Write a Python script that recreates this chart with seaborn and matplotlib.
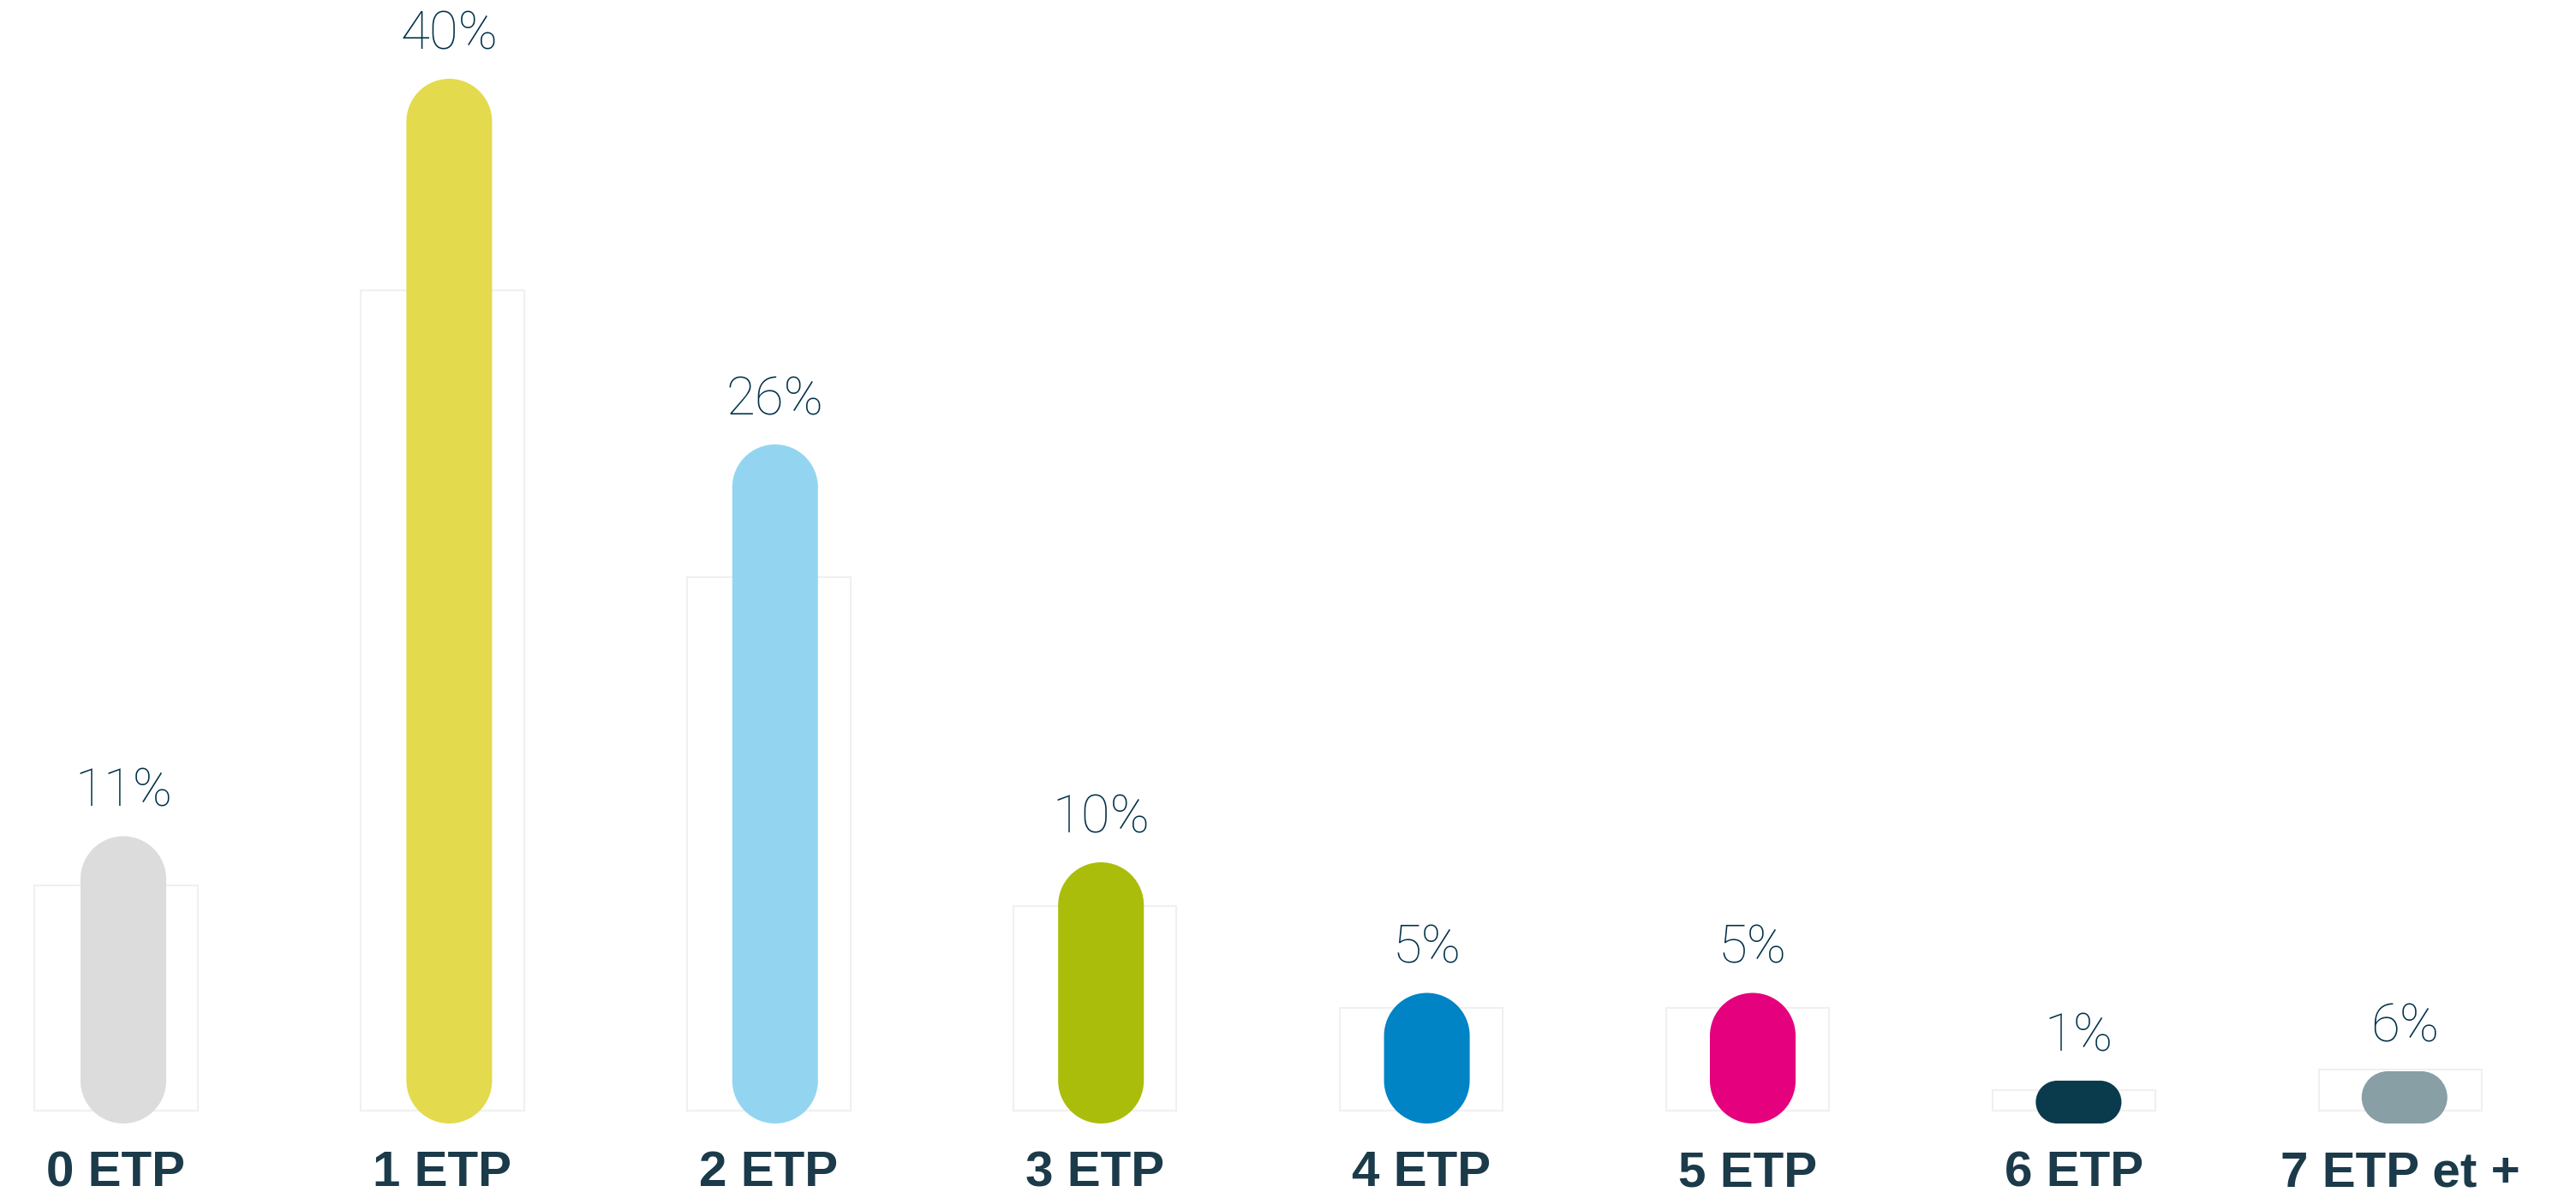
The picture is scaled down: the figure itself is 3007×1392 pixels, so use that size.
import matplotlib.pyplot as plt
import numpy as np
import seaborn as sns
from matplotlib.patches import PathPatch
from matplotlib.path import Path
from matplotlib.transforms import IdentityTransform

categories = ["0 ETP", "1 ETP", "2 ETP", "3 ETP", "4 ETP", "5 ETP", "6 ETP", "7 ETP et +"]
shares = [11, 40, 26, 10, 5, 5, 1, 2]
share_labels = ["11%", "40%", "26%", "10%", "5%", "5%", "1%", "6%"]
colors = ["#dcdcdc", "#e3da4e", "#93d5f1", "#abbd0b", "#0084c6", "#e5007d", "#0a3b4c", "#879fa5"]

W, H, DPI = 3007, 1392, 100


def capsule(x0, y0, w, h):
    """rounded box in pixel space, corner radius = half the short side"""
    r = min(w, h) / 2
    corners = [
        (x0 + w - r, y0 + h - r, 0, 90),
        (x0 + r, y0 + h - r, 90, 180),
        (x0 + r, y0 + r, 180, 270),
        (x0 + w - r, y0 + r, 270, 360),
    ]
    verts, codes = [], []
    for cx, cy, t1, t2 in corners:
        arc = Path.arc(t1, t2)
        v = arc.vertices * r + [cx, cy]
        c = list(arc.codes)
        c[0] = Path.MOVETO if not codes else Path.LINETO
        verts.extend(v)
        codes.extend(c)
    verts.append(verts[0])
    codes.append(Path.CLOSEPOLY)
    return Path(np.array(verts), codes)


sns.set_style("white")
fig = plt.figure(figsize=(W / DPI, H / DPI), dpi=DPI)

# faint outlined bars behind the capsules
ax_bg = fig.add_axes([0, 0, 1, 1])
sns.barplot(x=categories, y=shares, color="white", edgecolor="#f0f0f0",
            linewidth=1.5, width=0.5, saturation=1, ax=ax_bg)
ax_bg.set_xlim(-135.5 / 380.9, (W - 135.5) / 380.9)
ax_bg.set_ylim(-95 / 23.95, (H - 95) / 23.95)
ax_bg.axis("off")

# coloured capsules, on their own scale
ax = fig.add_axes([0, 0, 1, 1])
ax.patch.set_alpha(0)
sns.barplot(x=categories, y=shares, hue=categories, palette=colors,
            width=0.263, saturation=1, legend=False, ax=ax)
ax.set_xlim(-144 / 380.4, (W - 144) / 380.4)
ax.set_ylim(-80 / 30.5, (H - 80) / 30.5)
ax.axis("off")

for bar, label in zip(list(ax.patches), share_labels):
    x, w, h = bar.get_x(), bar.get_width(), bar.get_height()
    color = bar.get_facecolor()
    (px0, py0), (px1, py1) = ax.transData.transform([(x, 0), (x + w, h)])
    wpx = px1 - px0
    hpx = max(py1 - py0, 0.5 * wpx)
    bar.remove()
    ax.add_artist(PathPatch(capsule(px0, py0, wpx, hpx), facecolor=color,
                            edgecolor="none", transform=IdentityTransform()))
    top = ax.transData.inverted().transform((px0, py0 + hpx))[1]
    ax.annotate(label, xy=(x + w / 2, top), xytext=(0, 25), textcoords="offset points",
                ha="center", va="baseline", fontsize=44.6, family="Roboto",
                fontweight="light", color="#00314a")

# category labels sit under the outlined bars
for i, cat in enumerate(categories):
    ax_bg.text(i, 7 / H, cat, transform=ax_bg.get_xaxis_transform(), ha="center",
               va="baseline", fontsize=42, fontweight="bold",
               family="Liberation Sans", color="#1b3a4a")

fig.savefig("out.png", dpi=DPI)
